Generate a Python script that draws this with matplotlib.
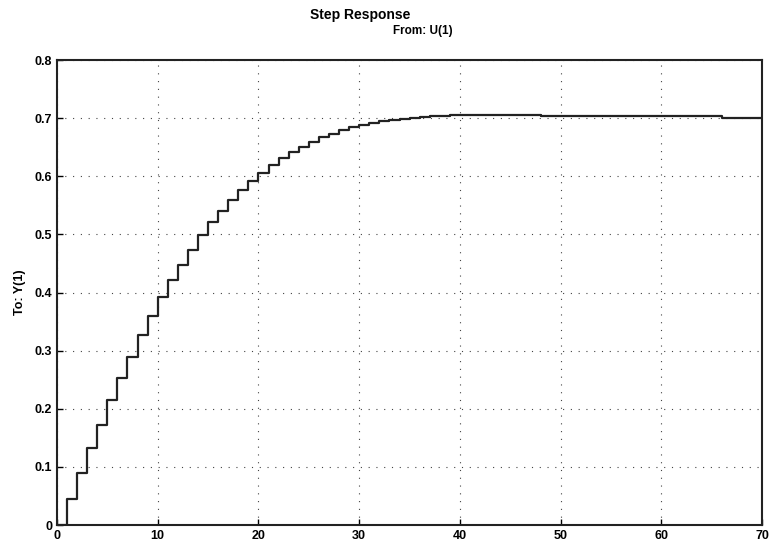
import matplotlib
matplotlib.use("Agg")
import matplotlib.pyplot as plt
import numpy as np

# step response samples, one per time step
t = np.arange(0, 71)
y_head = [0.0, 0.045, 0.090, 0.132, 0.173, 0.215, 0.253, 0.290, 0.327, 0.360,
          0.392, 0.421, 0.448, 0.474, 0.499, 0.521, 0.541, 0.559, 0.577, 0.592,
          0.606, 0.619, 0.631, 0.641, 0.651, 0.659, 0.667, 0.673, 0.679, 0.684,
          0.688, 0.692, 0.695, 0.697, 0.699, 0.701, 0.702, 0.703, 0.704, 0.705,
          0.706, 0.706, 0.706, 0.706, 0.706, 0.706, 0.706, 0.706, 0.704, 0.703,
          0.703, 0.703, 0.703, 0.703, 0.703, 0.703, 0.703, 0.703, 0.703, 0.703,
          0.703, 0.703, 0.703, 0.703, 0.703, 0.703, 0.700, 0.700, 0.700, 0.700,
          0.700]
y = np.array(y_head)

xticks = [0, 10, 20, 30, 40, 50, 60, 70]
yticks = [0, 0.1, 0.2, 0.3, 0.4, 0.5, 0.6, 0.7, 0.8]

plt.rcParams['font.family'] = ['Liberation Sans', 'DejaVu Sans']
plt.rcParams['font.weight'] = 'bold'

fig = plt.figure(figsize=(7.75, 5.51), dpi=100)
ax = fig.add_axes([0.0735, 0.047, 0.91, 0.844])

ax.step(t, y, where='post', color='#222222', linewidth=1.6)

ax.set_xlim(0, 70)
ax.set_ylim(0, 0.8)
ax.set_xticks(xticks)
ax.set_yticks(yticks)
ax.set_yticklabels(['0', '0.1', '0.2', '0.3', '0.4', '0.5', '0.6', '0.7', '0.8'])
ax.tick_params(direction='in', labelsize=9, length=4, width=1)
ax.grid(True, linestyle=(0, (1, 6)), color='#444444', linewidth=0.8)
for s in ax.spines.values():
    s.set_linewidth(1.5)
    s.set_color('#222222')

ax.set_ylabel('To: Y(1)', fontsize=9, fontweight='bold', labelpad=6)

fig.text(0.465, 0.972, 'Step Response', ha='center', va='center', fontsize=10)
fig.text(0.545, 0.944, 'From: U(1)', ha='center', va='center', fontsize=8.5)

fig.savefig('out.png', dpi=100)
